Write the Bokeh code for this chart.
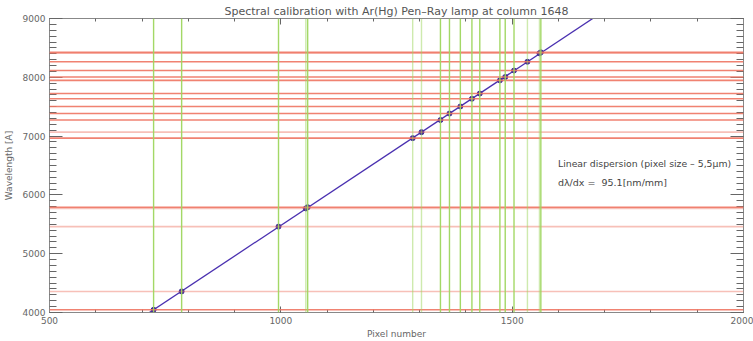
import numpy as np
from bokeh.plotting import figure
from bokeh.models import Range1d, FixedTicker, LinearAxis, Label, Span
from bokeh.embed import file_html
from bokeh.resources import INLINE

# Measured line positions (pixel) and reference wavelengths (Angstrom)
pixels = [725, 785.6, 995, 1054, 1058, 1285, 1304, 1345, 1364.5, 1388,
          1413, 1430, 1473.5, 1485, 1504, 1533, 1559, 1562]
wavelengths = [4046.56, 4358.33, 5460.74, 5769.60, 5790.66, 6965.43, 7067.22,
               7272.94, 7383.98, 7503.87, 7635.11, 7723.80, 7948.18, 8006.16,
               8115.31, 8264.52, 8408.21, 8424.65]
# faint (weak) lines
faint_pixel = [1285, 1304, 1533, 1054, 1559]
faint_wave = [7067.22, 5460.74, 4358.33, 5769.60, 8408.21]

x_ticks_major = [500, 1000, 1500, 2000]
y_ticks_major = [4000, 5000, 6000, 7000, 8000, 9000]

title = "Spectral calibration with Ar(Hg) Pen\u2013Ray lamp at column 1648"
note1 = "Linear dispersion (pixel size \u2013 5,5\u03bcm)"
note2 = "d\u03bb/dx = \u00a095.1[nm/mm]"

FONT = "DejaVu Sans"
GRAY = "#666666"

p = figure(width=753, height=341, output_backend="svg", toolbar_location=None,
           x_range=Range1d(500, 2000), y_range=Range1d(4000, 9000),
           x_axis_location=None, y_axis_location=None,
           min_border_left=48, min_border_right=10, min_border_top=18,
           min_border_bottom=29)
p.title.text = title
p.title.align = "center"
p.title.text_font = FONT
p.title.text_font_size = "11px"
p.title.text_font_style = "normal"
p.title.text_color = "#555555"
p.title.standoff = 2
p.xgrid.visible = False
p.ygrid.visible = False
p.outline_line_color = None
p.background_fill_color = "white"
p.border_fill_color = "white"

minor_x = list(range(500, 2001, 100))
minor_y = list(range(4000, 9001, 100))

def style_axis(ax, major_in, minor_in, ticks=None):
    ax.axis_line_color = "#888888"
    ax.major_tick_line_color = "#666666"
    ax.minor_tick_line_color = "#666666"
    ax.major_tick_in = major_in
    ax.major_tick_out = 0
    ax.minor_tick_in = minor_in
    ax.minor_tick_out = 0
    ax.major_label_text_font = FONT
    ax.major_label_text_color = GRAY
    ax.axis_label_text_font = FONT
    ax.axis_label_text_color = GRAY
    ax.axis_label_text_font_style = "normal"
    if ticks is not None:  # mirror axis: ticks only, no labels
        ax.major_label_overrides = {t: "" for t in ticks}
        ax.major_label_text_font_size = "0px"
        ax.major_label_standoff = 0

xb = LinearAxis(ticker=FixedTicker(ticks=x_ticks_major, minor_ticks=minor_x),
                axis_label="Pixel number")
style_axis(xb, 6, 3)
xb.major_label_text_font_size = "9px"
xb.axis_label_text_font_size = "9px"
xb.major_label_standoff = 4
xb.axis_label_standoff = 2
p.add_layout(xb, "below")

xt = LinearAxis(ticker=FixedTicker(ticks=x_ticks_major, minor_ticks=minor_x))
style_axis(xt, 6, 3, ticks=x_ticks_major)
p.add_layout(xt, "above")

yl = LinearAxis(ticker=FixedTicker(ticks=y_ticks_major, minor_ticks=minor_y),
                axis_label="Wavelength [A]")
style_axis(yl, 13, 7)
yl.major_label_text_font_size = "9px"
yl.axis_label_text_font_size = "9px"
yl.major_label_standoff = 4
yl.axis_label_standoff = 6
p.add_layout(yl, "left")

yr = LinearAxis(ticker=FixedTicker(ticks=y_ticks_major, minor_ticks=minor_y))
style_axis(yr, 13, 7, ticks=y_ticks_major)
p.add_layout(yr, "right")

RED = "#ee7462"
GREEN = "#9ed65e"
for w in wavelengths:
    faint = w in faint_wave
    p.add_layout(Span(location=w, dimension="width", line_color=RED,
                      line_alpha=0.45 if faint else 0.9, line_width=1.6))
for x in pixels:
    faint = x in faint_pixel
    p.add_layout(Span(location=x, dimension="height", line_color=GREEN,
                      line_alpha=0.5 if faint else 0.95, line_width=1.4))

# linear dispersion fit of the measured lines
coef = np.polyfit(pixels, wavelengths, 1)
fx = np.array([500.0, 2000.0])
p.line(fx, np.polyval(coef, fx), line_color="#4a30b0", line_width=1.3)
p.scatter(pixels, wavelengths, size=5, marker="circle", fill_color="#3e2a9a",
          line_color="#3e2a9a")

p.add_layout(Label(x=1599, y=6529, text=note1, text_font=FONT,
                   text_font_size="9.3px", text_color="#444444",
                   text_baseline="middle"))
p.add_layout(Label(x=1599, y=6216, text=note2, text_font=FONT,
                   text_font_size="9.5px", text_color="#444444",
                   text_baseline="middle"))

open("out.html", "w").write(file_html(p, INLINE))
